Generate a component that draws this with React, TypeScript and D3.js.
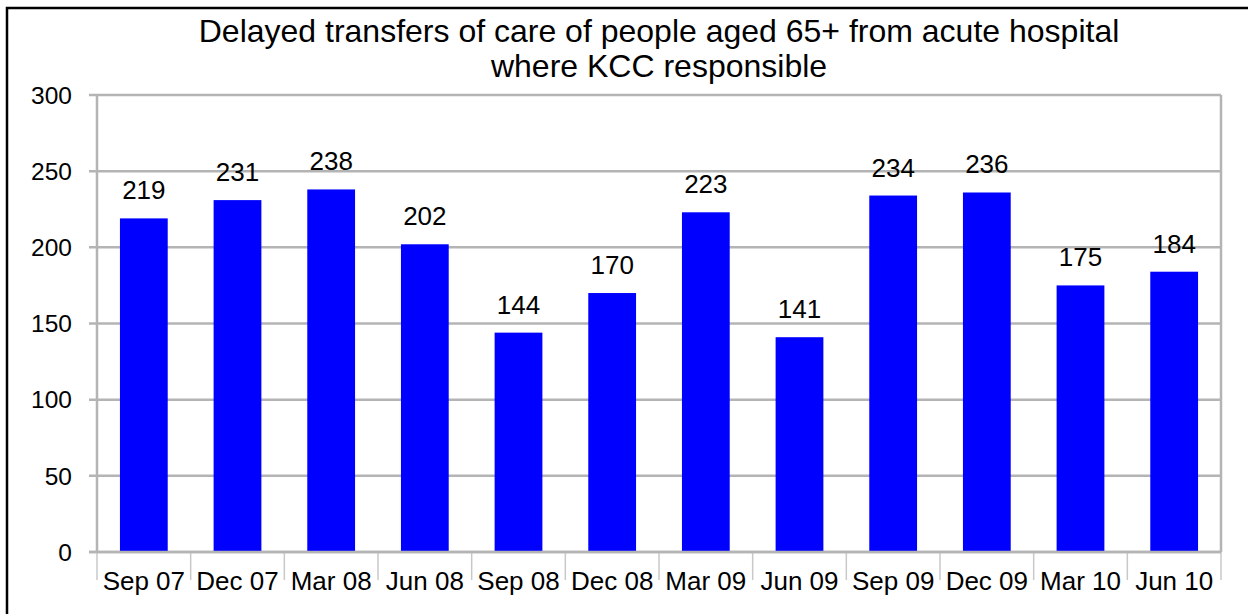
import React from "react";
import * as d3 from "d3";

const quarters = ["Sep 07", "Dec 07", "Mar 08", "Jun 08", "Sep 08", "Dec 08", "Mar 09", "Jun 09", "Sep 09", "Dec 09", "Mar 10", "Jun 10"];
const delayedTransfers = [219, 231, 238, 202, 144, 170, 223, 141, 234, 236, 175, 184];
const yTicks = [0, 50, 100, 150, 200, 250, 300];
const titleLines = ["Delayed transfers of care of people aged 65+ from acute hospital", "where KCC responsible"];

const W = 1248;
const H = 614;
const plot = { left: 97, right: 1221, top: 95, bottom: 552 };
const font = "'Liberation Sans', Arial, sans-serif";
const gridColor = "#b4b4b4";

export default function App() {
  const x = d3
    .scaleBand<string>()
    .domain(quarters)
    .range([plot.left, plot.right])
    .paddingInner(0.49)
    .paddingOuter(0.245);
  const xEdge = d3.scaleBand<string>().domain(quarters).range([plot.left, plot.right]);
  const y = d3.scaleLinear().domain([0, 300]).range([plot.bottom, plot.top]);

  return (
    <svg
      width={W}
      height={H}
      style={{ position: "absolute", left: 0, top: 0, background: "#fff" }}
      fontFamily={font}
    >
      {/* outer chart frame */}
      <rect x={7} y={8} width={W + 10} height={H + 10} fill="#fff" stroke="#000" strokeWidth={2.5} />

      {titleLines.map((t, i) => (
        <text key={t} x={659} y={42 + i * 35} textAnchor="middle" fontSize={32} fill="#000">
          {t}
        </text>
      ))}

      {/* gridlines and y ticks */}
      {yTicks.map((v) => (
        <g key={v}>
          <line x1={plot.left - 8} x2={plot.right} y1={y(v)} y2={y(v)} stroke={gridColor} strokeWidth={2.5} />
          <text x={72} y={y(v)} dy="0.36em" textAnchor="end" fontSize={24.5} fill="#000">
            {v}
          </text>
        </g>
      ))}

      {/* plot frame sides */}
      <line x1={plot.left} x2={plot.left} y1={plot.top} y2={plot.bottom} stroke={gridColor} strokeWidth={2.5} />
      <line x1={plot.right} x2={plot.right} y1={plot.top} y2={plot.bottom} stroke={gridColor} strokeWidth={2.5} />

      {/* x category separators */}
      {[...quarters.map((q) => xEdge(q) as number), plot.right].map((px, i) => (
        <line key={i} x1={px} x2={px} y1={plot.bottom} y2={580} stroke="#c8c8c8" strokeWidth={1.5} />
      ))}

      {/* bars */}
      {quarters.map((q, i) => (
        <rect
          key={q}
          x={x(q)}
          y={y(delayedTransfers[i])}
          width={x.bandwidth()}
          height={y(0) - y(delayedTransfers[i])}
          fill="#0000ff"
        />
      ))}

      {/* value labels */}
      {quarters.map((q, i) => (
        <text
          key={q}
          x={(x(q) as number) + x.bandwidth() / 2}
          y={y(delayedTransfers[i]) - 19}
          textAnchor="middle"
          fontSize={26}
          fill="#000"
        >
          {delayedTransfers[i]}
        </text>
      ))}

      {/* x labels */}
      {quarters.map((q) => (
        <text
          key={q}
          x={(xEdge(q) as number) + xEdge.bandwidth() / 2}
          y={590}
          textAnchor="middle"
          fontSize={26}
          fill="#000"
        >
          {q}
        </text>
      ))}

      {/* bottom axis line drawn on top of bars */}
      <line x1={plot.left - 8} x2={plot.right} y1={plot.bottom} y2={plot.bottom} stroke={gridColor} strokeWidth={2.5} />
    </svg>
  );
}
